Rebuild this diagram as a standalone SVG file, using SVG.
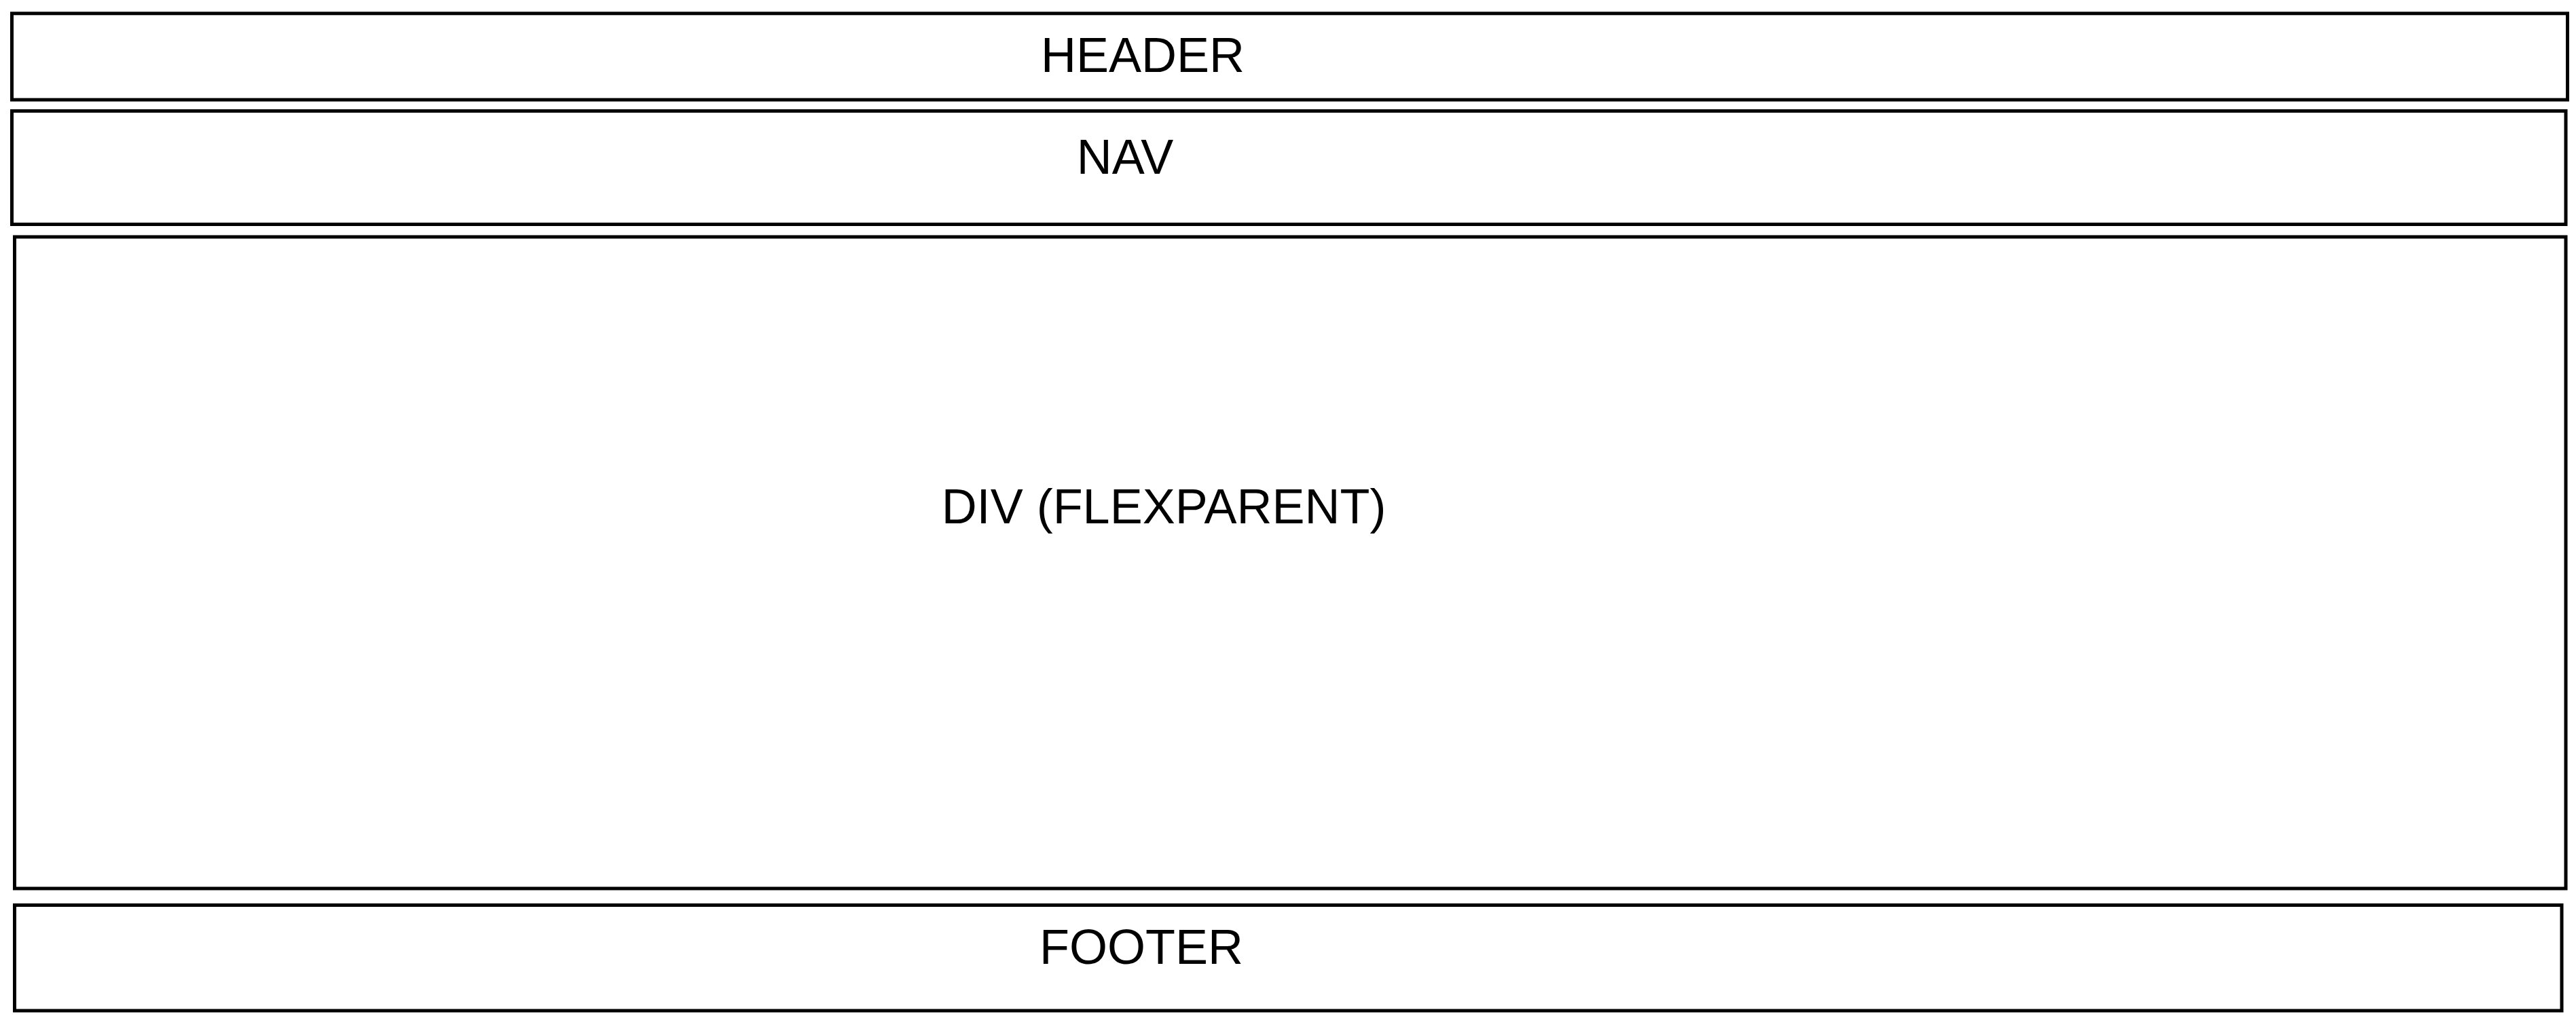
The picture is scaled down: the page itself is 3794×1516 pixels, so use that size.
<svg xmlns="http://www.w3.org/2000/svg" width="3794" height="1516" viewBox="0 0 3794 1516">
<style>
.box{fill:#fff;stroke:#000;stroke-width:5}
.lbl{font-family:"Liberation Sans",Arial,sans-serif;font-size:72px;fill:#000;text-anchor:middle}
</style>
<rect x="0" y="0" width="3794" height="1516" fill="#fff"/>
<g id="header"><rect class="box" x="17.5" y="19.8" width="3764" height="127.2"/><text class="lbl" x="1683" y="105.7">HEADER</text></g>
<g id="nav"><rect class="box" x="17.5" y="163.5" width="3761.5" height="167"/><text class="lbl" x="1657" y="255.7">NAV</text></g>
<g id="div"><rect class="box" x="21.5" y="349" width="3757.5" height="960"/><text class="lbl" x="1714" y="771">DIV (FLEXPARENT)</text></g>
<g id="footer"><rect class="box" x="21.5" y="1333.5" width="3751.5" height="155.5"/><text class="lbl" x="1681" y="1420">FOOTER</text></g>
<g id="connectors"></g>
</svg>
